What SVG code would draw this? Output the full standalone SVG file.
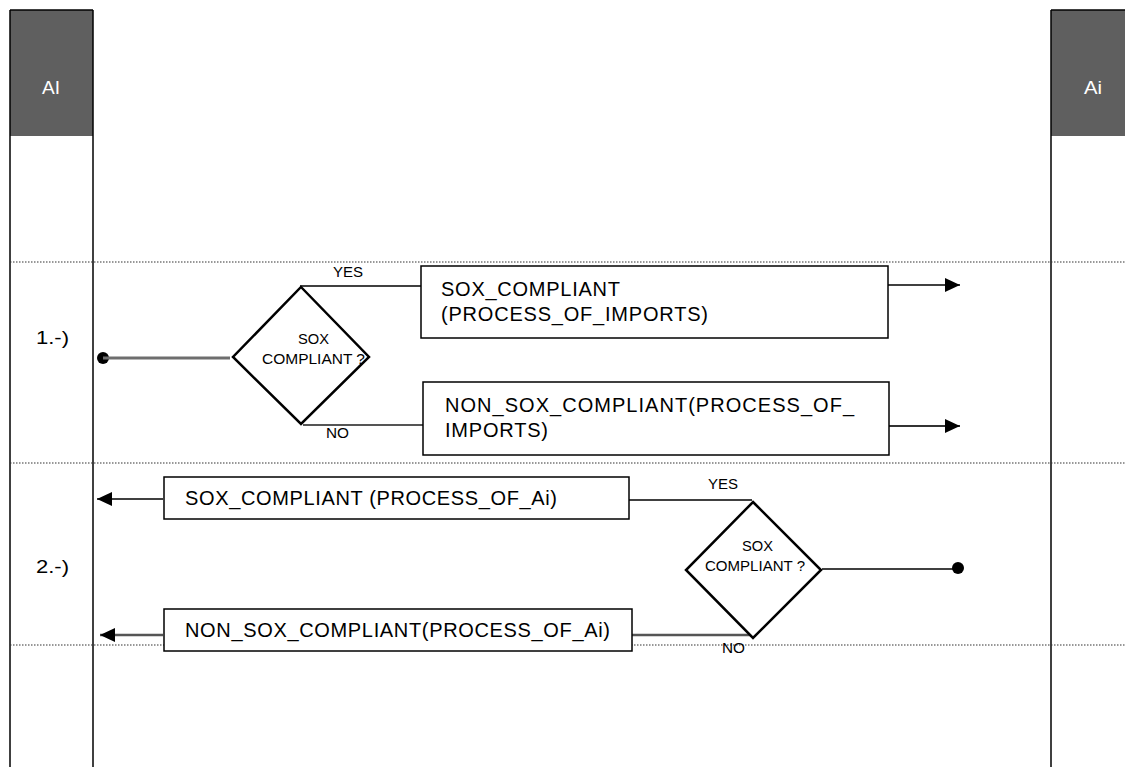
<svg xmlns="http://www.w3.org/2000/svg" width="1125" height="767" viewBox="0 0 1125 767">
<style>
text{font-family:"Liberation Sans",Arial,sans-serif;fill:#000}
.hdr{fill:#5f5f5f}
.hdrt{fill:#fff;font-size:18px}
.lane{stroke:#000;stroke-width:1.5;fill:none}
.dot{stroke:#333;stroke-width:1.2;stroke-dasharray:1.5 1.5}
.box{fill:#fff;stroke:#000;stroke-width:1.5}
.dia{fill:#fff;stroke:#000;stroke-width:2.5}
.bt{font-size:20px}
.dt{font-size:14px}
.lbl{font-size:14px}
.sec{font-size:19px}
.c{stroke:#000;stroke-width:1.5;fill:none}
.g{stroke:#6e6e6e;stroke-width:3;fill:none}
</style>
<defs>
<marker id="ar" markerWidth="16" markerHeight="14" refX="15" refY="7" orient="auto" markerUnits="userSpaceOnUse">
<path d="M0,0 L15,7 L0,14 Z" fill="#000"/>
</marker>
</defs>
<rect width="1125" height="767" fill="#fff"/>
<g id="lane-left">
<rect class="hdr" x="10" y="10" width="83" height="126"/>
<line class="lane" x1="10" y1="10" x2="93" y2="10"/>
<line class="lane" x1="10" y1="10" x2="10" y2="767"/>
<line class="lane" x1="93" y1="10" x2="93" y2="767"/>
<text class="hdrt" x="42" y="94" textLength="18" lengthAdjust="spacingAndGlyphs">AI</text>
</g>
<g id="lane-right">
<rect class="hdr" x="1051" y="10" width="74" height="126"/>
<line class="lane" x1="1051" y1="10" x2="1125" y2="10"/>
<line class="lane" x1="1051" y1="10" x2="1051" y2="767"/>
<text class="hdrt" x="1084" y="94" textLength="18" lengthAdjust="spacingAndGlyphs">Ai</text>
</g>
<g id="rows">
<line class="dot" x1="10" y1="262" x2="1125" y2="262"/>
<line class="dot" x1="10" y1="463" x2="1125" y2="463"/>
<line class="dot" x1="10" y1="645" x2="1125" y2="645"/>
<text class="sec" x="36" y="344" textLength="33" lengthAdjust="spacingAndGlyphs">1.-)</text>
<text class="sec" x="36" y="573" textLength="33" lengthAdjust="spacingAndGlyphs">2.-)</text>
</g>
<g id="connectors">
<circle cx="103" cy="358" r="6" fill="#000"/>
<line class="g" x1="103" y1="358" x2="230" y2="358"/>
<line class="c" x1="300" y1="286" x2="421" y2="286"/>
<line x1="303" y1="425" x2="423" y2="425" stroke="#555" stroke-width="2.2"/>
<line class="c" x1="888" y1="285" x2="960" y2="285" marker-end="url(#ar)"/>
<line x1="889" y1="426" x2="960" y2="426" stroke="#333" stroke-width="2" marker-end="url(#ar)"/>
<line class="c" x1="163" y1="499" x2="97" y2="499" marker-end="url(#ar)"/>
<line class="c" x1="629" y1="500" x2="752" y2="500"/>
<line class="c" x1="822" y1="569" x2="958" y2="569"/>
<circle cx="958" cy="568" r="6" fill="#000"/>
<line x1="163" y1="635" x2="100" y2="635" stroke="#555" stroke-width="2.5" marker-end="url(#ar)"/>
<line x1="632" y1="635" x2="750" y2="635" stroke="#555" stroke-width="2.5"/>
<text class="lbl" x="333" y="277" textLength="30" lengthAdjust="spacingAndGlyphs">YES</text>
<text class="lbl" x="326" y="438" textLength="23" lengthAdjust="spacingAndGlyphs">NO</text>
<text class="lbl" x="708" y="489" textLength="30" lengthAdjust="spacingAndGlyphs">YES</text>
<text class="lbl" x="722" y="653" textLength="23" lengthAdjust="spacingAndGlyphs">NO</text>
</g>
<g id="decision1">
<polygon class="dia" points="301,287 369,357 301,424 233,357"/>
<text class="dt" x="298" y="344" textLength="31" lengthAdjust="spacingAndGlyphs">SOX</text>
<text class="dt" x="262" y="364" textLength="103" lengthAdjust="spacingAndGlyphs">COMPLIANT ?</text>
</g>
<g id="box-sox-imports">
<rect class="box" x="421" y="266" width="467" height="72"/>
<text class="bt" x="441" y="296" textLength="179" lengthAdjust="spacing">SOX_COMPLIANT</text>
<text class="bt" x="441" y="321" textLength="267" lengthAdjust="spacing">(PROCESS_OF_IMPORTS)</text>
</g>
<g id="box-nonsox-imports">
<rect class="box" x="423" y="382" width="466" height="73"/>
<text class="bt" x="445" y="412" textLength="409" lengthAdjust="spacing">NON_SOX_COMPLIANT(PROCESS_OF_</text>
<text class="bt" x="445" y="437" textLength="103" lengthAdjust="spacing">IMPORTS)</text>
</g>
<g id="box-sox-ai">
<rect class="box" x="164" y="477" width="465" height="42"/>
<text class="bt" x="185" y="505" textLength="372" lengthAdjust="spacing">SOX_COMPLIANT (PROCESS_OF_Ai)</text>
</g>
<g id="decision2">
<polygon class="dia" points="753,502 821,570 753,638 686,570"/>
<text class="dt" x="742" y="551" textLength="31" lengthAdjust="spacingAndGlyphs">SOX</text>
<text class="dt" x="705" y="571" textLength="100" lengthAdjust="spacingAndGlyphs">COMPLIANT ?</text>
</g>
<g id="box-nonsox-ai">
<rect class="box" x="164" y="609" width="468" height="42"/>
<text class="bt" x="185" y="637" textLength="425" lengthAdjust="spacing">NON_SOX_COMPLIANT(PROCESS_OF_Ai)</text>
</g>
</svg>
